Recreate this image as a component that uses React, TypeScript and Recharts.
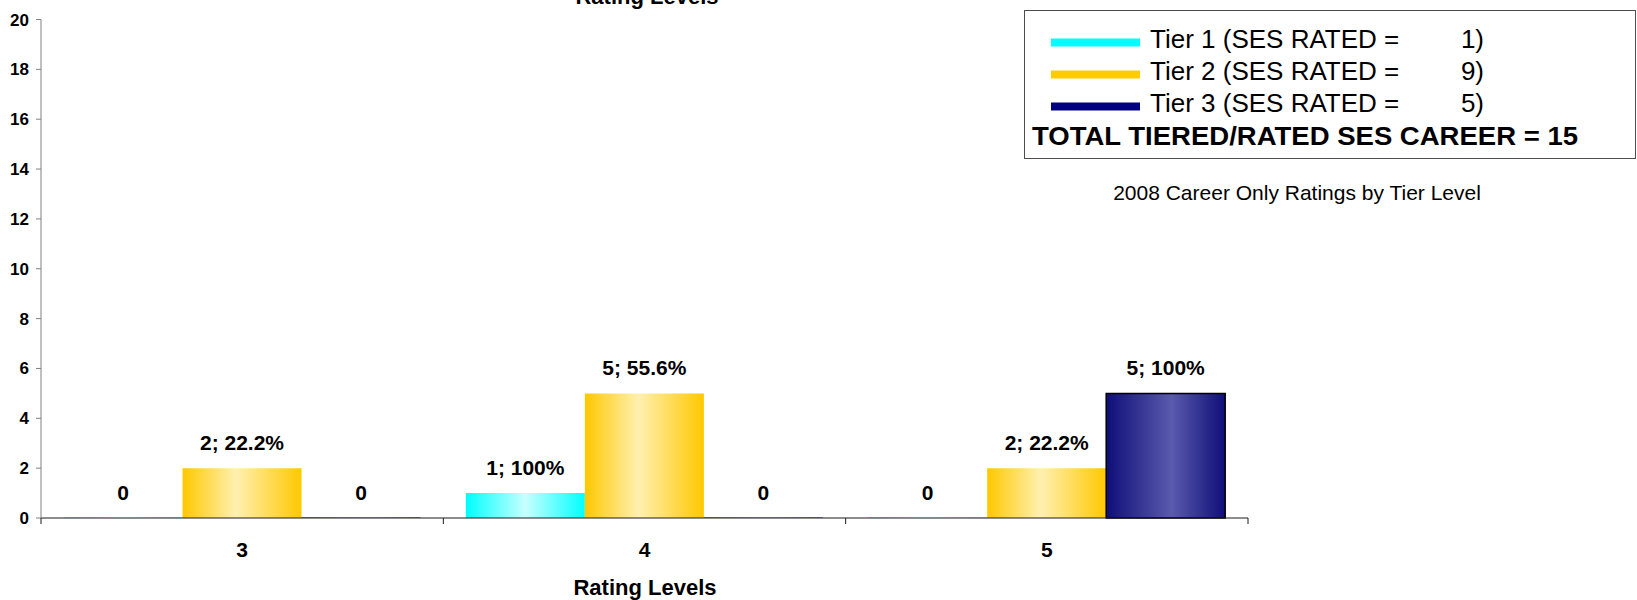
import { Bar, BarChart, Cell, LabelList, Legend, XAxis, YAxis } from "recharts";

const categories = ["3", "4", "5"];
const tier1 = [0, 1, 0];
const tier2 = [2, 5, 2];
const tier3 = [0, 0, 5];
const tierNames = ["Tier 1", "Tier 2", "Tier 3"];
const yTicks = [0, 2, 4, 6, 8, 10, 12, 14, 16, 18, 20];
const axisTitle = "Rating Levels";
const subtitle = "2008 Career Only Ratings by Tier Level";

const FONT = '"Liberation Sans", Arial, Helvetica, sans-serif';
const W = 1637;
const H = 600;
const MARGIN = { top: 19.5, right: 389, left: 0, bottom: 32 };
const Y_W = 41;
const X_H = 50;
const AXIS_Y = H - MARGIN.bottom - X_H;
const BAND = (W - MARGIN.left - MARGIN.right - Y_W) / categories.length;

const series = [
  { key: "t1", name: tierNames[0], values: tier1, fill: "url(#gCyan)", swatch: "#00FFFF", stroke: "none" },
  { key: "t2", name: tierNames[1], values: tier2, fill: "url(#gGold)", swatch: "#FFCC00", stroke: "none" },
  { key: "t3", name: tierNames[2], values: tier3, fill: "url(#gNavy)", swatch: "#000080", stroke: "#000" },
];

const data = categories.map((rating, i) => ({
  rating,
  t1: tier1[i],
  t2: tier2[i],
  t3: tier3[i],
}));

const sum = (a: number[]) => a.reduce((s, v) => s + v, 0);
const grandTotal = sum(tier1) + sum(tier2) + sum(tier3);

function labelFor(values: number[]) {
  const total = sum(values);
  return (v: any) => {
    const n = Number(v);
    if (!n) return "0";
    const pct = Number(((n / total) * 100).toFixed(1));
    return `${n}; ${pct}%`;
  };
}

function CategoryTick(props: any) {
  const { x, payload, index } = props;
  const half = BAND / 2;
  return (
    <g>
      <line x1={x - half} x2={x - half} y1={AXIS_Y} y2={AXIS_Y + 6} stroke="#1a1a1a" />
      {index === categories.length - 1 && (
        <line x1={x + half} x2={x + half} y1={AXIS_Y} y2={AXIS_Y + 6} stroke="#1a1a1a" />
      )}
      <text x={x} y={AXIS_Y + 38.5} textAnchor="middle" fontSize={21} fontWeight="bold" fontFamily={FONT} fill="#000">
        {payload.value}
      </text>
    </g>
  );
}

function LegendBox() {
  return (
    <svg width={613} height={150} style={{ display: "block", fontFamily: FONT }}>
      <rect x={0.5} y={0.5} width={611} height={148} fill="#fff" stroke="#4d4d4d" />
      {series.map((s, i) => {
        const ly = 32.5 + i * 32;
        return (
          <g key={s.key}>
            <rect x={27} y={ly - 4} width={89} height={8} fill={s.swatch} />
            <text x={126} y={ly + 5} fontSize={26} fill="#000">
              {`${s.name} (SES RATED =`}
            </text>
            <text x={460} y={ly + 5} fontSize={26} fill="#000" textAnchor="end">
              {`${sum(s.values)})`}
            </text>
          </g>
        );
      })}
      <text
        x={8}
        y={135}
        fontSize={25}
        fontWeight="bold"
        fill="#000"
        textLength={546}
        lengthAdjust="spacingAndGlyphs"
      >
        {`TOTAL TIERED/RATED SES CAREER = ${grandTotal}`}
      </text>
    </svg>
  );
}

export default function App() {
  return (
    <div style={{ position: "absolute", left: 0, top: 0, background: "#fff" }}>
      <BarChart
        width={W}
        height={H}
        data={data}
        margin={MARGIN}
        barCategoryGap="5.6%"
        barGap={0}
      >
        <defs>
          <linearGradient id="gCyan" x1="0" y1="0" x2="1" y2="0">
            <stop offset="0%" stopColor="#00FFFF" />
            <stop offset="50%" stopColor="#C8FFFF" />
            <stop offset="100%" stopColor="#00FFFF" />
          </linearGradient>
          <linearGradient id="gGold" x1="0" y1="0" x2="1" y2="0">
            <stop offset="0%" stopColor="#FFC800" />
            <stop offset="45%" stopColor="#FFF0B0" />
            <stop offset="100%" stopColor="#FFC800" />
          </linearGradient>
          <linearGradient id="gNavy" x1="0" y1="0" x2="1" y2="0">
            <stop offset="0%" stopColor="#0E0E78" />
            <stop offset="55%" stopColor="#5A5AAE" />
            <stop offset="100%" stopColor="#0E0E78" />
          </linearGradient>
        </defs>
        <XAxis
          dataKey="rating"
          height={X_H}
          interval={0}
          axisLine={{ stroke: "#1a1a1a" }}
          tickLine={false}
          tick={(p: any) => <CategoryTick {...p} />}
        />
        <YAxis
          width={Y_W}
          domain={[0, 20]}
          ticks={yTicks}
          interval={0}
          tickSize={5}
          tickMargin={7}
          axisLine={{ stroke: "#808080" }}
          tickLine={{ stroke: "#808080" }}
          tick={{ fill: "#000", fontSize: 17, fontWeight: "bold", fontFamily: FONT }}
        />
        <Legend
          layout="vertical"
          align="center"
          verticalAlign="middle"
          wrapperStyle={{ left: 1024, top: 10, width: 613, height: 150 }}
          content={() => <LegendBox />}
        />
        {series.map((s) => (
          <Bar
            key={s.key}
            dataKey={s.key}
            name={s.name}
            fill={s.fill}
            strokeWidth={1.5}
            minPointSize={0.5}
            isAnimationActive={false}
          >
            {s.values.map((v, i) => (
              <Cell key={i} stroke={v > 0 ? s.stroke : "none"} />
            ))}
            <LabelList
              dataKey={s.key}
              position="top"
              offset={18}
              formatter={labelFor(s.values)}
              style={{ fill: "#000", fontSize: 21, fontWeight: "bold", fontFamily: FONT }}
            />
          </Bar>
        ))}
        <text x={647} y={4} textAnchor="middle" fontSize={22} fontWeight="bold" fontFamily={FONT} fill="#000">
          {axisTitle}
        </text>
        <text x={645} y={594.5} textAnchor="middle" fontSize={22} fontWeight="bold" fontFamily={FONT} fill="#000">
          {axisTitle}
        </text>
        <text x={1297} y={199.5} textAnchor="middle" fontSize={21} fontFamily={FONT} fill="#000">
          {subtitle}
        </text>
      </BarChart>
    </div>
  );
}
